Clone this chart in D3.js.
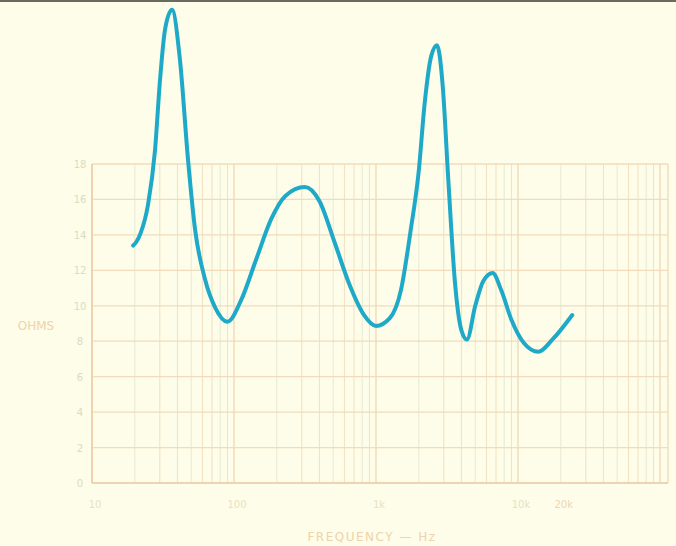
<!DOCTYPE html>
<html><head><meta charset="utf-8">
<script src="https://cdn.jsdelivr.net/npm/d3@7"></script>
<style>
html,body{margin:0;padding:0;background:#fdfde9;}
svg{display:block;}
</style></head>
<body>
<svg id="c" width="676" height="546"></svg>
<script>
// Data
const frequencyHz = [19.5, 20.5, 22, 24.8, 27.8, 30.1, 32.7, 36.6, 41.6, 47.5, 53.2, 62.5, 73.7, 90, 112, 143, 183, 230, 316, 400, 510, 650, 820, 1000, 1250, 1500, 1750, 2000, 2200, 2450, 2690, 2950, 3230, 3600, 4000, 4370, 5000, 5700, 6630, 7600, 9000, 11000, 13900, 17500, 24100];
const impedanceOhms = [13.4, 13.6, 14.1, 15.7, 18.8, 22.7, 25.6, 26.7, 23.9, 18.2, 14.3, 11.5, 9.9, 9.1, 10.3, 12.6, 14.9, 16.2, 16.7, 15.9, 13.6, 11.2, 9.5, 8.86, 9.3, 10.9, 14.2, 17.6, 21.4, 24.1, 24.7, 22.4, 17.1, 11.3, 8.6, 8.1, 10.0, 11.4, 11.85, 10.9, 9.2, 7.9, 7.4, 8.1, 9.48];
const yTicks = [0, 2, 4, 6, 8, 10, 12, 14, 16, 18];
const xTickValues = [10, 100, 1000, 10000, 20000];
const xTickLabels = ["10", "100", "1k", "10k", "20k"];
const xLabel = "FREQUENCY — Hz";
const yLabel = "OHMS";

const svg = d3.select("#c");
svg.append("rect").attr("width", 676).attr("height", 546).attr("fill", "#fdfde9");
svg.append("rect").attr("x", 0).attr("y", 0).attr("width", 676).attr("height", 2).attr("fill", "#6a6a60");

const x = d3.scaleLog().domain([10, 100000]).range([92, 660]);
const y = d3.scaleLinear().domain([0, 18]).range([483, 164]);
const xEnd = 668;

const grid = svg.append("g");
const vLines = [];
for (let d = 10; d <= 100000; d *= 10) {
  for (let m = 1; m <= 9; m++) {
    const v = d * m;
    if (x(v) <= xEnd) vLines.push({v, major: m === 1});
  }
}
grid.selectAll("line.v").data(vLines).join("line")
  .attr("x1", d => x(d.v)).attr("x2", d => x(d.v))
  .attr("y1", y(18)).attr("y2", y(0))
  .attr("stroke", (d, i) => i % 3 === 1 ? "#e4e9cf" : "#f3dcbc")
  .attr("stroke-width", d => d.major ? 1.6 : 1.1)
  .attr("opacity", d => d.major ? 0.95 : 0.8);
grid.selectAll("line.h").data(yTicks).join("line")
  .attr("x1", 92).attr("x2", xEnd)
  .attr("y1", d => y(d)).attr("y2", d => y(d))
  .attr("stroke", "#f1d9b8").attr("stroke-width", 1.3).attr("opacity", 0.9);
grid.append("line").attr("x1", xEnd).attr("x2", xEnd).attr("y1", y(18)).attr("y2", y(0))
  .attr("stroke", "#f1d9b8").attr("stroke-width", 1.3);
grid.append("line").attr("x1", 92).attr("x2", 92).attr("y1", y(18)).attr("y2", y(0))
  .attr("stroke", "#eccfa9").attr("stroke-width", 1.6);
grid.append("line").attr("x1", 92).attr("x2", xEnd).attr("y1", y(0)).attr("y2", y(0))
  .attr("stroke", "#eccfa9").attr("stroke-width", 1.6);

svg.append("g").selectAll("text").data(yTicks).join("text")
  .attr("x", 80).attr("y", d => y(d) + 4)
  .attr("text-anchor", "middle")
  .attr("font-family", "DejaVu Sans, sans-serif").attr("font-size", 10)
  .attr("fill", "#d9dcc4")
  .text(d => d);

svg.append("g").selectAll("text").data(xTickValues).join("text")
  .attr("x", d => x(d) + 3).attr("y", 508)
  .attr("text-anchor", "middle")
  .attr("font-family", "DejaVu Sans, sans-serif").attr("font-size", 10)
  .attr("fill", (d, i) => i === 4 ? "#f0d6ae" : "#e8e2c4")
  .text((d, i) => xTickLabels[i]);

svg.append("text").attr("x", 36).attr("y", 330).attr("text-anchor", "middle")
  .attr("font-family", "DejaVu Sans, sans-serif").attr("font-size", 12)
  .attr("fill", "#efd3ab").text(yLabel);
svg.append("text").attr("x", 372).attr("y", 541).attr("text-anchor", "middle")
  .attr("font-family", "DejaVu Sans, sans-serif").attr("font-size", 12)
  .attr("letter-spacing", 1.5)
  .attr("fill", "#efd3ab").text(xLabel);

const pts = frequencyHz.map((f, i) => [f, impedanceOhms[i]]);
const line = d3.line().x(d => x(d[0])).y(d => y(d[1])).curve(d3.curveMonotoneX);
svg.append("path").datum(pts).attr("d", line)
  .attr("fill", "none").attr("stroke", "#1fa9c9").attr("stroke-width", 4)
  .attr("stroke-linecap", "round").attr("stroke-linejoin", "round");
</script>
</body></html>
